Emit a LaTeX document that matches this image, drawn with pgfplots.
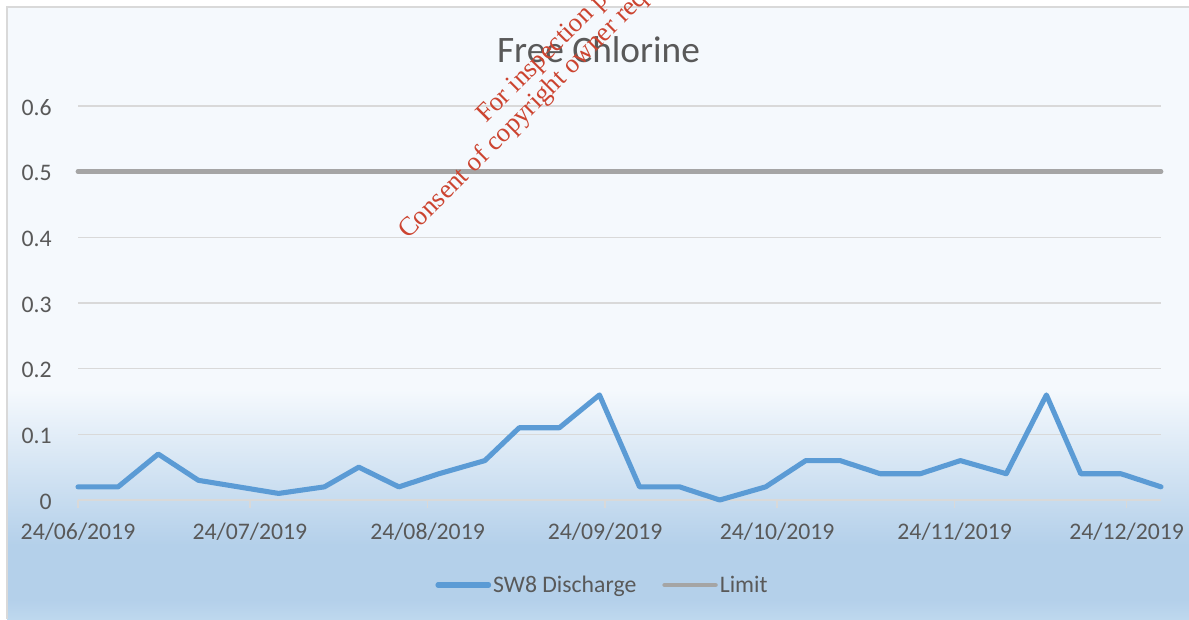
\documentclass[border=0pt]{standalone}
\usepackage{pgfplots}
\pgfplotsset{compat=1.18}
\usepackage{fontspec}
\setmainfont{Carlito}
\newfontfamily\wmfont{Liberation Serif}
\definecolor{txt}{HTML}{595959}
\definecolor{gridc}{HTML}{D9D9D9}
\definecolor{sblue}{HTML}{5B9BD5}
\definecolor{sgray}{HTML}{A5A5A5}
\definecolor{wm}{HTML}{CC4430}
\definecolor{bgtop}{HTML}{F5F9FD}
\definecolor{bgbot}{HTML}{B4D0EA}
\definecolor{bgend}{HTML}{BED8EE}
\definecolor{borderc}{HTML}{D9D9D9}

\pgfplotstableread{
day value
0 0.02
7 0.02
14 0.07
21 0.03
28 0.02
35 0.01
43 0.02
49 0.05
56 0.02
63 0.04
71 0.06
77 0.11
84 0.11
91 0.16
98 0.02
105 0.02
112 0.00
120 0.02
127 0.06
133 0.06
140 0.04
147 0.04
154 0.06
162 0.04
169 0.16
175 0.04
182 0.04
189 0.02
}\swdata

\pgfplotstableread{
day value
0 0.5
189 0.5
}\limitdata

\begin{document}
\begin{tikzpicture}
\begin{scope}[x=0.75pt,y=0.75pt]
\useasboundingbox (0,0) rectangle (1189,619);
\fill[white] (0,0) rectangle (1189,619);
\fill[bgtop] (7,229) rectangle (1189,612);
\shade[top color=bgtop,bottom color=bgbot] (7,74) rectangle (1189,229.5);
\fill[bgbot] (7,19) rectangle (1189,74.5);
\shade[top color=bgbot,bottom color=bgend] (7,0) rectangle (1189,19.5);
\draw[borderc, line width=1.2pt] (7,0) -- (7,612) -- (1189,612);
\node[anchor=base, text=txt, inner sep=0pt, font=\fontsize{28}{33}\selectfont] at (598.5,556) {Free Chlorine};
\end{scope}

\begin{axis}[
  at={(58.5pt,89.25pt)}, anchor=origin,
  scale only axis,
  width=812.25pt, height=295.5pt,
  xmin=0, xmax=189,
  ymin=0, ymax=0.6,
  clip=false,
  axis line style={draw=none},
  ytick={0,0.1,0.2,0.3,0.4,0.5,0.6},
  yticklabels={0,0.1,0.2,0.3,0.4,0.5,0.6},
  xtick={0,30,61,92,122,153,183},
  xticklabels={24/06/2019,24/07/2019,24/08/2019,24/09/2019,24/10/2019,24/11/2019,24/12/2019},
  tick align=inside,
  xtick pos=bottom, ytick pos=left,
  major tick length=6pt,
  ytick style={draw=none},
  xtick style={draw=gridc, line width=1.1pt, yshift=-6pt},
  ymajorgrids,
  grid style={gridc, line width=1.1pt},
  tick label style={text=txt, font=\fontsize{17.8}{21}\selectfont, inner sep=0pt},
  yticklabel style={anchor=base east, xshift=-19.5pt, yshift=-6.75pt},
  xticklabel style={anchor=base, yshift=-29.25pt},
  /pgf/number format/assume math mode=true,
  legend columns=2,
  legend style={at={(axis description cs:0.4843,-0.2157)}, anchor=center,
    draw=none, fill=none, text=txt, font=\fontsize{17.8}{21}\selectfont,
    nodes={inner sep=1.5pt},
    /tikz/every even column/.append style={column sep=18pt}},
  legend image code/.code={\draw[#1, line cap=round] (0pt,0pt) -- (38pt,0pt);},
]
\addplot[sblue, line width=3.8pt, line join=round, line cap=round] table[x=day,y=value] {\swdata};
\addlegendentry{SW8 Discharge}
\addplot[sgray, line width=3.6pt, line cap=round] table[x=day,y=value] {\limitdata};
\addlegendentry{Limit}
\end{axis}

\begin{scope}[x=0.75pt,y=0.75pt]
\clip (0,0) rectangle (1189,619);
\node[rotate=45, anchor=base, text=wm, inner sep=0pt, font=\wmfont\fontsize{20}{24}\selectfont] at (616,587) {Consent of copyright owner required for any other use.};
\node[rotate=45, anchor=base, text=wm, inner sep=0pt, font=\wmfont\fontsize{20}{24}\selectfont] at (597,606) {For inspection purposes only.};
\end{scope}
\end{tikzpicture}
\end{document}
